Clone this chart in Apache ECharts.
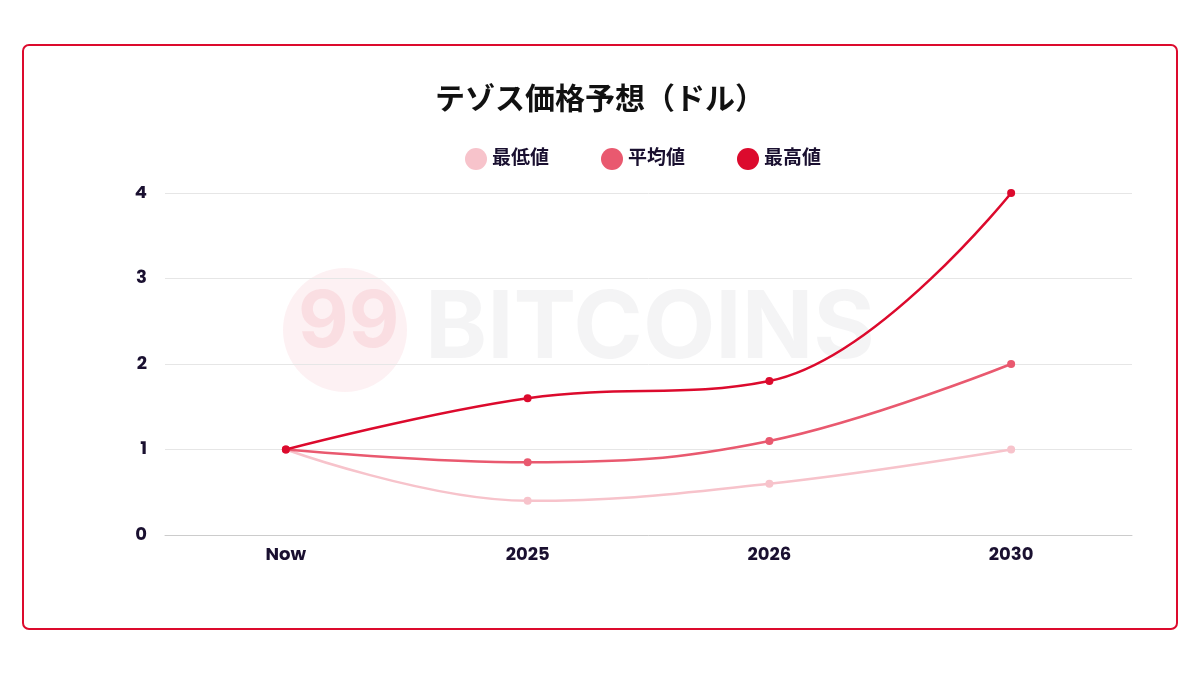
<!DOCTYPE html>
<html><head><meta charset="utf-8">
<script src="https://cdn.jsdelivr.net/npm/echarts@6/dist/echarts.min.js"></script>
<style>html,body{margin:0;padding:0;background:#fff}#c{width:1200px;height:675px}</style>
</head><body><div id="c"></div>
<script>
const categories = ['Now','2025','2026','2030'];
const lowValues = [1, 0.4, 0.6, 1];
const avgValues = [1, 0.85, 1.1, 2];
const highValues = [1, 1.6, 1.8, 4];
const seriesNames = ['最低値','平均値','最高値'];
const colors = ['#f7c3cb','#e9596f','#dc0a2d'];
const font = 'Poppins, Inter, "Noto Sans CJK JP", sans-serif';
const chart = echarts.init(document.getElementById('c'));
const mk = (name, data, color, z) => ({
  name, type:'line', data, smooth:0.4, symbol:'circle', symbolSize:8, z,
  itemStyle:{color}, lineStyle:{color, width:2.5}
});
chart.setOption({
  animation:false,
  graphic:[
    {type:'rect', shape:{x:23,y:45,width:1154,height:584,r:6}, style:{fill:'#fff',stroke:'#dc0a2d',lineWidth:2}, z:-10},
    {type:'circle', shape:{cx:345,cy:330,r:62}, style:{fill:'rgba(230,60,80,0.07)'}, z:-5},
    {type:'text', left:298, top:285, style:{text:'99', font:'bold 78px Inter, sans-serif', fill:'rgba(230,60,80,0.10)'}, z:-4},
    {type:'text', left:425, top:283, style:{text:'BITCOINS', font:'bold 94px Inter, sans-serif', fill:'rgba(60,60,80,0.06)'}, z:-4}
  ],
  title:{text:'テゾス価格予想（ドル）', left:'center', top:82, textStyle:{fontSize:30, fontWeight:'bold', color:'#111', fontFamily:font}},
  legend:{top:143, left:460, icon:'circle', itemWidth:22, itemHeight:22, itemGap:52,
    textStyle:{fontSize:19, fontWeight:'bold', color:'#1a1030', fontFamily:font}, data:seriesNames},
  grid:{left:165, right:68, top:193, bottom:140},
  xAxis:{type:'category', data:categories, boundaryGap:true,
    axisLine:{lineStyle:{color:'#ccc'}}, axisTick:{show:false},
    axisLabel:{fontSize:18, fontWeight:'bold', color:'#1a1030', margin:12, fontFamily:font}},
  yAxis:{type:'value', min:0, max:4, interval:1,
    axisLabel:{fontSize:18, fontWeight:'bold', color:'#1a1030', margin:18, fontFamily:font},
    splitLine:{lineStyle:{color:'#e6e6e6'}}},
  series:[mk(seriesNames[0], lowValues, colors[0], 1), mk(seriesNames[1], avgValues, colors[1], 2), mk(seriesNames[2], highValues, colors[2], 3)]
});
</script></body></html>
